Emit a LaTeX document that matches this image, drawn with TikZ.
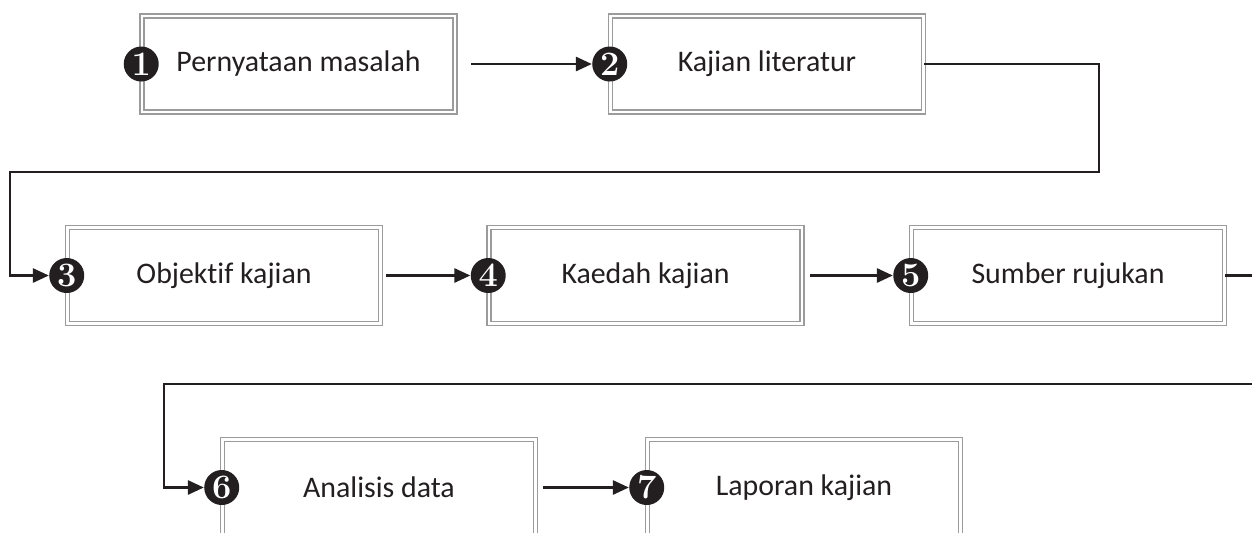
\documentclass[tikz,border=0pt]{standalone}
\usepackage{fontspec}
\usepackage{tikz}
\usetikzlibrary{arrows.meta}
\newfontfamily\boxfont[Ligatures=NoCommon]{Carlito}
\definecolor{boxgrey}{RGB}{155, 155, 155}
\definecolor{ink}{RGB}{35, 31, 32}

\begin{document}
\begin{tikzpicture}[x=0.02cm, y=-0.02cm,
  stepbox/.style={draw=boxgrey, line width=0.9pt, double=white, double distance=1.3pt,
    minimum width=6.26cm, minimum height=1.92cm, inner sep=0pt, text=ink,
    font=\boxfont\fontsize{17}{20}\selectfont},
  num/.style={circle, fill=ink, text=white, minimum size=0.7cm, inner sep=0pt,
    font=\fontsize{19.5}{19.5}\selectfont\bfseries},
  link/.style={->, >={Triangle[length=0.32cm, width=0.28cm]}, ink, line width=1.5pt}]

  \pgfmathsetmacro{\ya}{64};
  \pgfmathsetmacro{\yb}{275.5};
  \pgfmathsetmacro{\yc}{487.5};

  \useasboundingbox (0, 0) rectangle (1252, 532);
  \clip (0, 0) rectangle (1252, 532);

  \node[stepbox] (b1) at (298.5, \ya) {Pernyataan masalah};
  \node[stepbox] (b2) at (767, \ya) {Kajian literatur};
  \node[stepbox] (b3) at (224, \yb) {Objektif kajian};
  \node[stepbox] (b4) at (645.5, \yb) {Kaedah kajian};
  \node[stepbox] (b5) at (1068, \yb) {Sumber rujukan};
  \node[stepbox] (b6) at (379, \yc) {Analisis data};
  \node[stepbox] (b7) at (804, \yc) {Laporan kajian};

  \node[num] (n1) at (b1.west) {1};
  \node[num] (n2) at (b2.west) {2};
  \node[num] (n3) at (b3.west) {3};
  \node[num] (n4) at (b4.west) {4};
  \node[num] (n5) at (b5.west) {5};
  \node[num] (n6) at (b6.west) {6};
  \node[num] (n7) at (b7.west) {7};

  \draw[link, shorten <=0.3cm] (b1.east) -- (n2.west);
  \draw[link, shorten <=0.1cm] (b3.east) -- (n4.west);
  \draw[link, shorten <=0.14cm] (b4.east) -- (n5.west);
  \draw[link, shorten <=0.14cm] (b6.east) -- (n7.west);

  \coordinate (turnA) at (1099, 172);
  \coordinate (turnB) at (10, 172);
  \draw[link] (b2.east) -| (turnA) -- (turnB) |- (n3.west);

  \coordinate (offR) at (1265, \yb);
  \coordinate (backR) at (1265, 384);
  \coordinate (turnC) at (164, 384);
  \draw[link] (b5.east) -- (offR) -- (backR) -- (turnC) |- (n6.west);

\end{tikzpicture}
\end{document}
